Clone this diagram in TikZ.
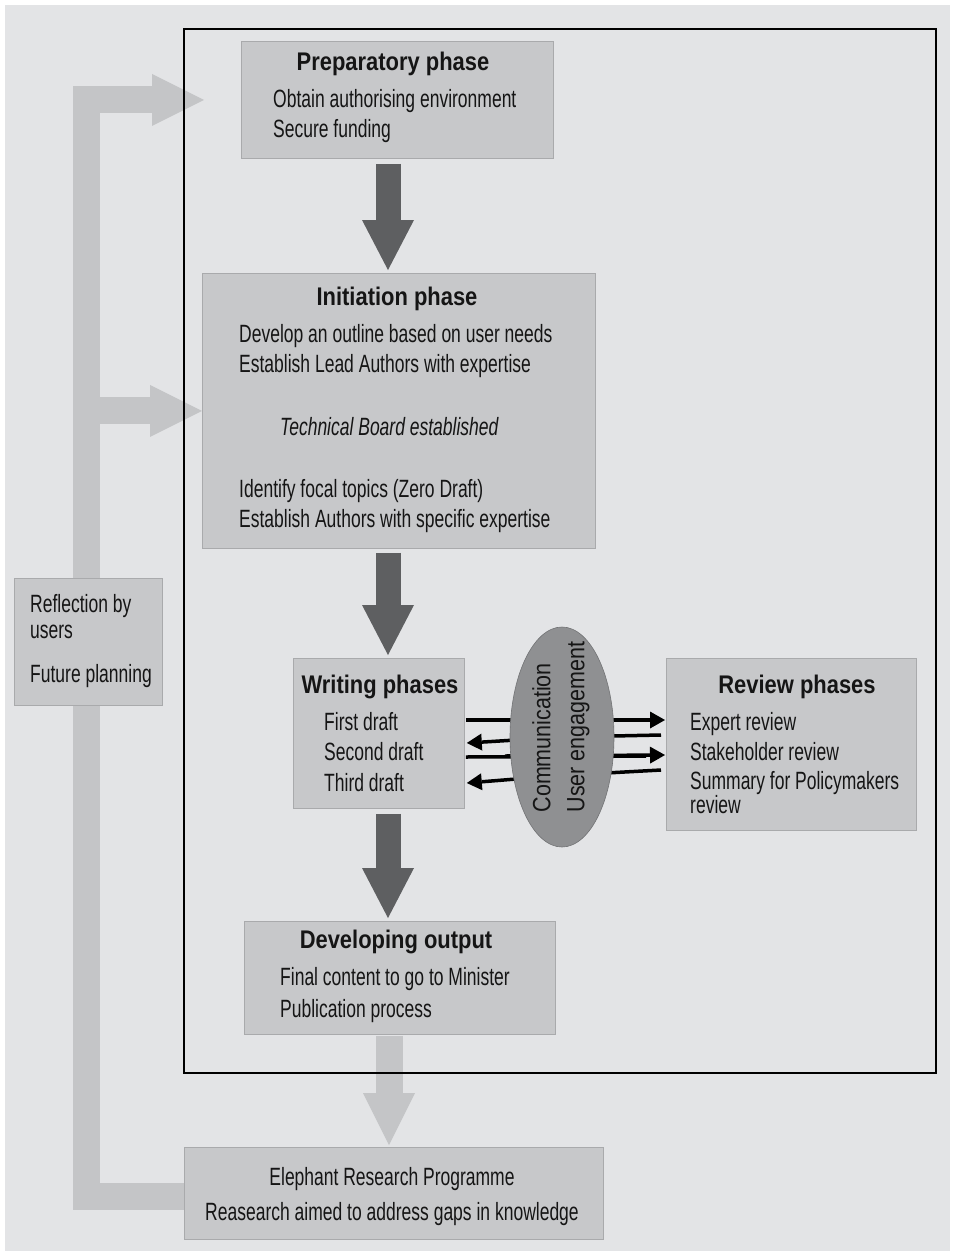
\documentclass[tikz,border=0pt]{standalone}
\usepackage{fontspec}
\setmainfont{Liberation Sans}[FakeStretch=0.70]
\newfontfamily\tfont{Liberation Sans}[FakeStretch=0.86]
\newfontfamily\cfont{Liberation Sans}[FakeStretch=0.86]
\usetikzlibrary{arrows.meta,calc}
\definecolor{bgc}{HTML}{E3E4E6}
\definecolor{boxc}{HTML}{C7C8CA}
\definecolor{boxe}{HTML}{A9AAAC}
\definecolor{darkc}{HTML}{5E5F61}
\definecolor{fbc}{HTML}{C4C5C7}
\definecolor{ellc}{HTML}{8F9092}
\definecolor{txtc}{HTML}{151515}
\pgfdeclarelayer{paper}
\pgfdeclarelayer{back}
\pgfsetlayers{paper,back,main}
\tikzset{
  box/.style={draw=boxe, line width=0.8pt, fill=boxc, anchor=north west, inner sep=0pt},
  txt/.style={inner sep=0pt, anchor=base west, text=txtc, font=\fontsize{25}{30}\selectfont},
  ctxt/.style={txt, anchor=base},
  ttl/.style={inner sep=0pt, anchor=base, text=txtc, font=\tfont\bfseries\fontsize{25.5}{30}\selectfont},
  bigarrow/.style={draw=darkc, line width=25pt, -{Triangle[width=52pt,length=50pt,line width=0pt]}},
  fbarrow/.style={draw=fbc, line width=27pt, line join=miter, -{Triangle[width=52pt,length=52pt,line width=0pt]}},
  comm/.style={draw=black, line width=3.5pt, -{Triangle[width=17pt,length=15pt,line width=0pt]}},
  plain/.style={draw=black, line width=3.5pt},
}
\begin{document}
\begin{tikzpicture}[x=1pt,y=-1pt]
\useasboundingbox (0,0) rectangle (954,1254);
\begin{pgfonlayer}{paper}
\fill[white] (0,0) rectangle (954,1254);
\fill[bgc] (5,5) rectangle (950,1251);
\end{pgfonlayer}

% outer frame
\node[draw=black, line width=1.6pt, anchor=north west, inner sep=0pt,
      minimum width=752pt, minimum height=1044pt] (frame) at (183,28) {};

% boxes
\node[box, minimum width=312pt, minimum height=117pt] (prep) at (241,41) {};
\node[box, minimum width=393pt, minimum height=275pt] (init) at (202,273) {};
\node[box, minimum width=171pt, minimum height=150pt] (write) at (293,658) {};
\node[box, minimum width=250pt, minimum height=172pt] (review) at (666,658) {};
\node[box, minimum width=311pt, minimum height=113pt] (devel) at (244,921) {};
\node[box, minimum width=419pt, minimum height=92pt] (eleph) at (184,1147) {};
\node[box, minimum width=148pt, minimum height=127pt] (refl) at (14,578) {};

\coordinate (ax) at (388,0);
\coordinate (bx) at (389,0);
\coordinate (fbx) at (86,0);

% feedback and output arrows (behind)
\begin{pgfonlayer}{back}
\draw[fbarrow] ($(eleph.west)+(0,3)$) -- ($(eleph.west -| fbx)+(0,3)$) -- ($(prep.west -| fbx)$) -- ($(prep.west)+(-37,0)$);
\draw[fbarrow] (init.west -| fbx) -- (init.west);
\draw[fbarrow] ($(devel.south -| bx)+(0,1)$) -- ($(eleph.north -| bx)+(0,-2)$);
\end{pgfonlayer}

% main flow arrows
\draw[bigarrow] ($(prep.south -| ax)+(0,5)$) -- ($(init.north -| ax)+(0,-3)$);
\draw[bigarrow] ($(init.south -| ax)+(0,4)$) -- ($(write.north -| ax)+(0,-3)$);
\draw[bigarrow] ($(write.south -| ax)+(0,5)$) -- ($(devel.north -| ax)+(0,-3)$);

% communication connectors
\draw[plain] ($(write.north east)+(1,62)$) -- ($(review.north west)+(-20,62)$);
\draw[comm]  ($(write.north east)+(40,62)$) -- ($(review.north west)+(-1,62)$);
\draw[plain] ($(review.north west)+(-5,77)$) -- ($(write.north east)+(50,80)$);
\draw[comm]  ($(review.north west)+(-150,82)$) -- ($(write.north east)+(2,85)$);
\draw[plain] ($(write.north east)+(1,99)$) -- ($(review.north west)+(-20,98)$);
\draw[comm]  ($(write.north east)+(40,98)$) -- ($(review.north west)+(-1,97)$);
\draw[plain] ($(review.north west)+(-5,112)$) -- ($(write.north east)+(50,120)$);
\draw[comm]  ($(review.north west)+(-150,121)$) -- ($(write.north east)+(2,125)$);

% communication ellipse
\draw[fill=ellc, draw=ellc!80!black, line width=0.6pt] (562,737) ellipse [x radius=52, y radius=110];
\node[inner sep=0pt, rotate=90, align=left, text=txtc, font=\cfont\fontsize{25}{34}\selectfont] (comm) at (561,727) {Communication\\User engagement};

% texts: preparatory
\node[ttl] (pt) at (393,70) {Preparatory phase};
\node[txt] (p1) at (273,107) {Obtain authorising environment};
\node[txt] (p2) at (273,137) {Secure funding};

% initiation
\node[ttl] (it) at (397,305) {Initiation phase};
\node[txt] (i1) at (239,342) {Develop an outline based on user needs};
\node[txt] (i2) at (239,372) {Establish Lead Authors with expertise};
\node[txt, font=\itshape\fontsize{25}{30}\selectfont] (i3) at (280,435) {Technical Board established};
\node[txt] (i4) at (239,497) {Identify focal topics (Zero Draft)};
\node[txt] (i5) at (239,527) {Establish Authors with specific expertise};

% writing
\node[ttl] (wt) at (380,693) {Writing phases};
\node[txt] (w1) at (324,730) {First draft};
\node[txt] (w2) at (324,760) {Second draft};
\node[txt] (w3) at (324,791) {Third draft};

% review
\node[ttl] (rt) at (797,693) {Review phases};
\node[txt] (r1) at (690,730) {Expert review};
\node[txt] (r2) at (690,760) {Stakeholder review};
\node[txt] (r3) at (690,789) {Summary for Policymakers};
\node[txt] (r4) at (690,813) {review};

% developing
\node[ttl] (dt) at (396,948) {Developing output};
\node[txt] (d1) at (280,985) {Final content to go to Minister};
\node[txt] (d2) at (280,1017) {Publication process};

% elephant
\node[ctxt] (e1) at (392,1185) {Elephant Research Programme};
\node[ctxt] (e2) at (392,1220) {Reasearch aimed to address gaps in knowledge};

% reflection
\node[txt] (f1) at (30,612) {Reflection by};
\node[txt] (f2) at (30,638) {users};
\node[txt] (f3) at (30,682) {Future planning};
\end{tikzpicture}
\end{document}
